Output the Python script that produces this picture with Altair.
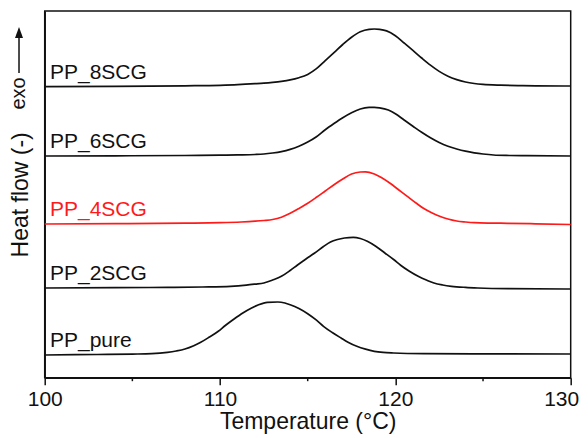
import altair as alt
import pandas as pd

# ---- data (heat flow, arbitrary units, offset per sample) ----
series_names = ["PP_8SCG", "PP_6SCG", "PP_4SCG", "PP_2SCG", "PP_pure"]
series_colors = ["#111111", "#111111", "#ff1a1a", "#111111", "#111111"]
baseline_offsets = [291.0, 221.7, 153.7, 89.7, 22.7]

t_8scg = [100, 104, 108, 110, 111, 112, 112.5, 113, 113.5, 114, 114.5, 115, 115.5, 116, 116.5, 117, 117.5, 118,
          118.5, 118.8, 119.1, 119.5, 120, 120.5, 121, 121.5, 122, 122.5, 123, 123.5, 124, 124.5, 125, 126, 127, 128, 130]
hf_8scg = [0, 0.3, 0.9, 1.4, 2.0, 3.0, 3.6, 4.4, 5.4, 6.8, 9.0, 12.3, 18.0, 26.0, 34.0, 42.2, 49.5, 55.0,
           57.4, 57.7, 57.3, 55.8, 51.0, 43.7, 36.3, 28.7, 21.5, 15.3, 10.5, 7.1, 4.7, 3.2, 2.3, 1.5, 1.1, 0.9, 0.7]

t_6scg = [100, 104, 108, 110, 111, 112, 112.5, 113, 113.5, 114, 114.5, 115, 115.5, 116, 116.5, 117, 117.5, 118,
          118.5, 118.8, 119.1, 119.6, 120, 120.5, 121, 121.5, 122, 122.5, 123, 123.5, 124, 124.5, 125, 125.6, 126.5, 127.5, 130]
hf_6scg = [0, 0.2, 0.5, 0.8, 1.1, 1.5, 2.0, 3.0, 4.4, 6.6, 9.8, 14.0, 19.3, 26.3, 32.5, 38.3, 43.3, 47.0,
           48.6, 48.7, 48.2, 46.0, 42.3, 36.0, 29.8, 23.7, 18.2, 13.5, 9.8, 7.0, 4.8, 3.2, 2.0, 1.0, 0.5, 0.3, 0]

t_4scg = [100, 104, 108, 110, 111.2, 112, 112.5, 113, 113.5, 114, 114.5, 115, 115.5, 116, 116.5, 117, 117.5, 118,
          118.3, 118.8, 119.2, 119.7, 120.2, 120.7, 121.2, 121.6, 122.1, 122.6, 123, 123.5, 124, 124.5, 125.5, 126.4, 128, 130]
hf_4scg = [0, 0.3, 0.8, 1.3, 2.0, 2.8, 3.5, 4.5, 6.8, 10.7, 15.5, 20.7, 26.7, 33.0, 39.3, 45.0, 50.0, 52.0,
           52.2, 50.0, 46.5, 40.7, 34.0, 27.3, 20.7, 15.7, 11.0, 7.3, 5.0, 3.0, 2.0, 1.3, 0.9, 0.7, 0.2, -0.5]

t_2scg = [100, 104, 107, 109, 110.6, 111.5, 112, 112.5, 113, 113.5, 114, 114.4, 114.9, 115.4, 115.9, 116.3, 116.7, 117.1,
          117.6, 118, 118.4, 118.9, 119.4, 119.9, 120.3, 120.8, 121.3, 121.8, 122.2, 122.7, 123.2, 124, 124.7, 126.4, 130]
hf_2scg = [0, 0.3, 0.6, 1.0, 1.7, 2.9, 3.9, 5.0, 8.0, 11.7, 17.5, 22.7, 29.0, 35.0, 41.5, 46.0, 48.5, 50.0,
           50.7, 49.5, 46.7, 41.5, 35.0, 28.5, 22.7, 16.7, 11.7, 7.7, 5.0, 3.0, 1.7, 0.6, 0, -0.7, -1.0]

t_pure = [100, 103, 105, 106.1, 107, 107.5, 108, 108.5, 108.9, 109.4, 109.9, 110.3, 110.8, 111.3, 111.8, 112.2, 112.7,
          113.3, 113.7, 114.0, 114.5, 115.0, 115.5, 115.9, 116.4, 116.9, 117.3, 117.8, 118.3, 118.8, 119.3, 119.9, 121.6, 125, 130]
hf_pure = [0, 0.5, 0.9, 1.3, 2.6, 4.0, 6.0, 9.3, 12.7, 18.0, 23.7, 29.5, 36.0, 42.0, 47.0, 50.3, 52.7,
           53.0, 52.0, 50.3, 46.5, 41.3, 34.8, 28.7, 22.5, 17.0, 12.8, 8.7, 5.8, 3.7, 2.6, 2.0, 1.3, 1.1, 1.0]

major_ticks = [100, 110, 120, 130]
minor_ticks = [105, 115, 125]
label_t = 100.3

temps = [t_8scg, t_6scg, t_4scg, t_2scg, t_pure]
flows = [hf_8scg, hf_6scg, hf_4scg, hf_2scg, hf_pure]

rows = []
for name, off, ts, hs in zip(series_names, baseline_offsets, temps, flows):
    for t, h in zip(ts, hs):
        rows.append({"series": name, "T": t, "hf": off + h})
df = pd.DataFrame(rows)
lab = pd.DataFrame({"series": series_names, "T": [label_t] * 5, "hf": baseline_offsets})
minor = pd.DataFrame({"T": minor_ticks})

FONT = "Liberation Sans"
W, H = 526, 366.7
xscale = alt.Scale(domain=[100, 130], nice=False)
yscale = alt.Scale(domain=[0, 366.7], nice=False, zero=False)
cscale = alt.Scale(domain=series_names, range=series_colors)

lines = alt.Chart(df).mark_line(strokeWidth=1.7, interpolate="monotone").encode(
    x=alt.X("T:Q", scale=xscale, axis=alt.Axis(
        title="Temperature (°C)", values=major_ticks, tickSize=7, labelFlush=False,
        labelAlign={"condition": {"test": "datum.value === 130", "value": "right"}, "value": "center"},
        labelOffset={"condition": {"test": "datum.value === 130", "value": 8}, "value": 0},
        grid=False, labelFontSize=21, labelPadding=4,
        titleFontSize=23, titleY=51.3, titleBaseline="alphabetic")),
    y=alt.Y("hf:Q", scale=yscale, axis=alt.Axis(
        title="Heat flow (-)", ticks=False, labels=False, grid=False,
        titleFontSize=23, titleX=-17, titleBaseline="alphabetic")),
    color=alt.Color("series:N", scale=cscale, legend=None),
    order="T:Q",
)

minor_rules = alt.Chart(minor).mark_rule(color="#111111", strokeWidth=1.5).encode(
    x=alt.X("T:Q", scale=xscale),
    y=alt.value(H), y2=alt.value(H + 3.5),
)

labels = alt.Chart(lab).mark_text(align="left", baseline="alphabetic", dy=-8,
                                  fontSize=21, font=FONT).encode(
    x=alt.X("T:Q", scale=xscale),
    y=alt.Y("hf:Q", scale=yscale),
    text="series:N",
    color=alt.Color("series:N", scale=cscale, legend=None),
)

one = pd.DataFrame({"k": [0]})
exo_text = alt.Chart(one).mark_text(text="exo", angle=270, align="center", baseline="middle",
                                    fontSize=20, font=FONT, color="#111111").encode(
    x=alt.value(-25.5), y=alt.value(82.5))
arrow_line = alt.Chart(one).mark_rule(color="#111111", strokeWidth=1.5).encode(
    x=alt.value(-25.7), y=alt.value(26), y2=alt.value(62))
arrow_head = alt.Chart(one).mark_point(shape="M0,-1L0.73,1L-0.73,1Z", filled=True, size=121,
                                       color="#111111", opacity=1).encode(
    x=alt.value(-25.7), y=alt.value(21.5))

chart = alt.layer(lines, minor_rules, labels, exo_text, arrow_line, arrow_head).properties(
    width=W, height=H,
    autosize=alt.AutoSizeParams(type="none"),
    padding={"left": 36.7, "top": 3, "right": 9.3, "bottom": 56},
).configure_view(stroke="#111111", strokeWidth=1.5).configure_axis(
    domainColor="#111111", domainWidth=1.5, tickColor="#111111", tickWidth=1.5,
    labelFont=FONT, titleFont=FONT, labelColor="#111111", titleColor="#111111",
    titleFontWeight="normal",
)

chart.save("out.html", embed_options={"renderer": "svg", "actions": False})
